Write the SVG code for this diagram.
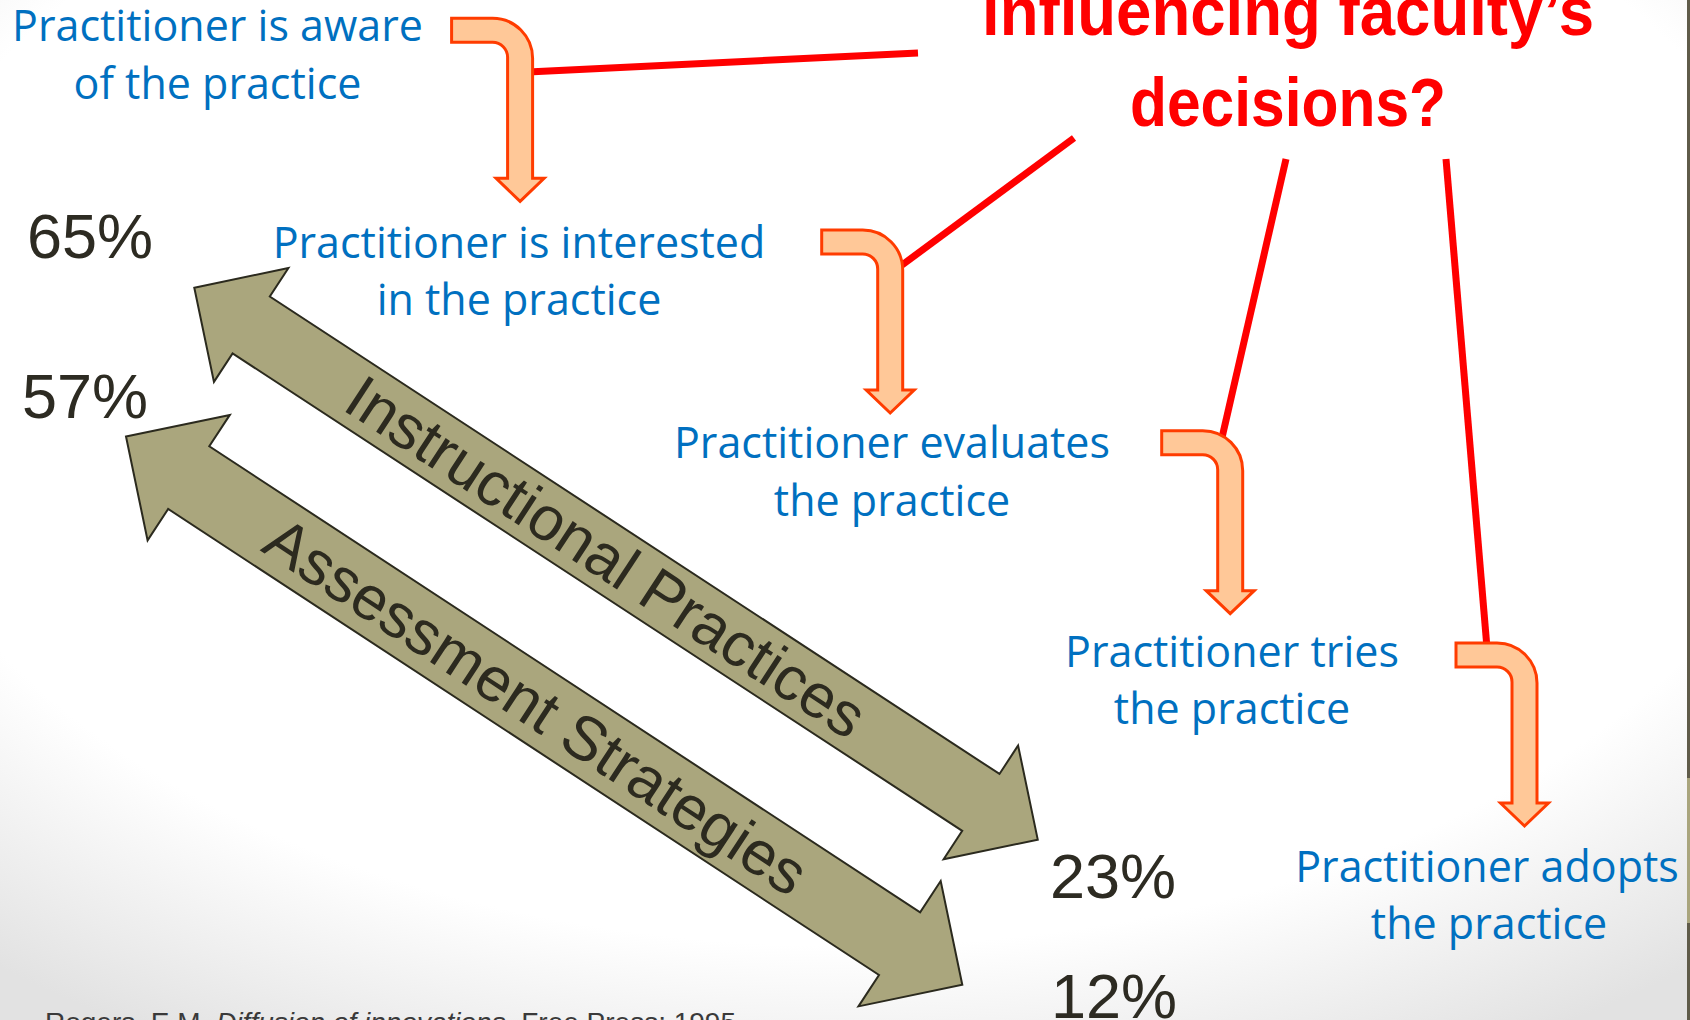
<svg xmlns="http://www.w3.org/2000/svg" xmlns:xlink="http://www.w3.org/1999/xlink" width="1690" height="1020" viewBox="0 0 1690 1020">
<style>
.blue{font-family:"Open Sans","Liberation Sans",sans-serif;font-size:43px;fill:#0070c0;text-anchor:middle}
.pct{font-family:"Liberation Sans",Arial,sans-serif;font-size:63px;fill:#2d2b22}
.title{font-family:"Liberation Sans",Arial,sans-serif;font-weight:bold;font-size:69px;fill:#ff0000}
.band{font-family:"Liberation Sans",Arial,sans-serif;font-size:62px;fill:#2c2a1f;text-anchor:middle}
.foot{font-family:"Liberation Sans",Arial,sans-serif;font-size:28px;fill:#3a3a3a}
.olive{fill:#aaa67d;stroke:#2b2a1e;stroke-width:2;stroke-linejoin:miter}
.bent{fill:#ffc898;stroke:#ff3c00;stroke-width:3;stroke-linejoin:miter}
.red{stroke:#ff0000;stroke-width:7;fill:none}
</style>
<defs>
<radialGradient id="bg" cx="0.5" cy="0.35" r="0.78">
<stop offset="0" stop-color="#ffffff"/>
<stop offset="0.74" stop-color="#ffffff"/>
<stop offset="1" stop-color="#e2e2e2"/>
</radialGradient>
<path id="bentArrow" class="bent" d="M0,0 H41 A40,40 0 0 1 81,40 V160 H92.5 L68.5,183 L44.5,160 H56 V39 A15,15 0 0 0 41,24 H0 Z"/>
</defs>
<rect x="0" y="0" width="1690" height="1020" fill="url(#bg)"/>
<rect x="1687" y="0" width="3" height="1020" fill="#5f5b49"/>
<rect x="1687" y="778" width="3" height="145" fill="#a9a57d"/>

<g id="connectors">
<line class="red" x1="528" y1="72" x2="918" y2="53"/>
<line class="red" x1="898" y1="268" x2="1074" y2="138"/>
<line class="red" x1="1221" y1="442" x2="1286" y2="159"/>
<line class="red" x1="1487" y1="648" x2="1446" y2="159"/>
</g>

<g id="title">
<text class="title" x="982" y="35" textLength="612" lengthAdjust="spacingAndGlyphs">influencing faculty’s</text>
<text class="title" x="1130" y="126" textLength="316" lengthAdjust="spacingAndGlyphs">decisions?</text>
</g>

<g id="bent-arrows">
<use xlink:href="#bentArrow" x="451.6" y="18.3"/>
<use xlink:href="#bentArrow" x="821.7" y="230"/>
<use xlink:href="#bentArrow" x="1161.7" y="430.7"/>
<use xlink:href="#bentArrow" x="1456" y="643"/>
</g>

<g id="instructional-arrow" transform="translate(194.3,287.7) rotate(33.2)">
<polygon class="olive" points="0,0 68,-68 68,-34 940,-34 940,-68 1008,0 940,68 940,34 68,34 68,68"/>
<text class="band" x="492" y="21">Instructional Practices</text>
</g>

<g id="assessment-arrow" transform="translate(126,436.5) rotate(33.25)">
<polygon class="olive" points="0,0 75,-75 75,-37.5 925,-37.5 925,-75 1000,0 925,75 925,37.5 75,37.5 75,75"/>
<text class="band" x="491" y="22">Assessment Strategies</text>
</g>

<g id="stage-aware">
<text class="blue" x="217.5" y="41">Practitioner is aware</text>
<text class="blue" x="217.5" y="99">of the practice</text>
</g>
<g id="stage-interested">
<text class="blue" x="519" y="258">Practitioner is interested</text>
<text class="blue" x="519" y="315">in the practice</text>
</g>
<g id="stage-evaluates">
<text class="blue" x="892" y="458">Practitioner evaluates</text>
<text class="blue" x="892" y="516">the practice</text>
</g>
<g id="stage-tries">
<text class="blue" x="1232" y="667">Practitioner tries</text>
<text class="blue" x="1232" y="724">the practice</text>
</g>
<g id="stage-adopts">
<text class="blue" x="1487" y="882">Practitioner adopts</text>
<text class="blue" x="1489" y="939">the practice</text>
</g>

<g id="percentages">
<text class="pct" x="27" y="258">65%</text>
<text class="pct" x="22" y="418">57%</text>
<text class="pct" x="1050" y="898">23%</text>
<text class="pct" x="1051" y="1018">12%</text>
</g>

<g id="footer">
<text class="foot" x="45" y="1032">Rogers, E.M. <tspan font-style="italic">Diffusion of innovations</tspan>. Free Press; 1995</text>
</g>
</svg>
